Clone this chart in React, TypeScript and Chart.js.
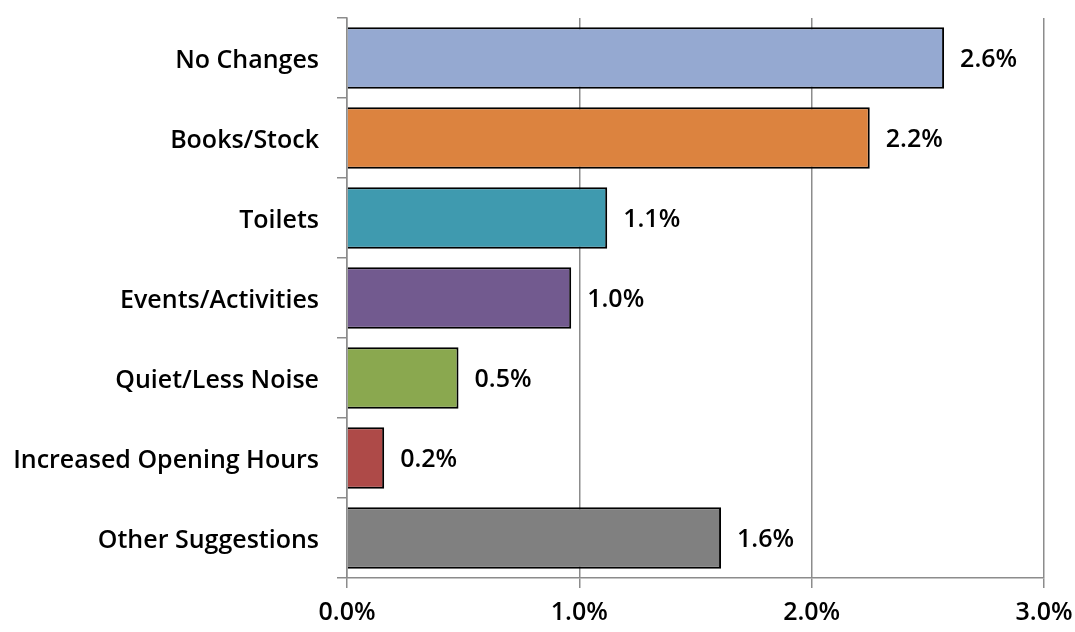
import React, { useEffect, useRef } from "react";
import { Chart, registerables } from "chart.js";

Chart.register(...registerables);

const categories = [
  "No Changes",
  "Books/Stock",
  "Toilets",
  "Events/Activities",
  "Quiet/Less Noise",
  "Increased Opening Hours",
  "Other Suggestions",
];
const values = [2.57, 2.25, 1.12, 0.965, 0.48, 0.16, 1.61];
const valueLabels = ["2.6%", "2.2%", "1.1%", "1.0%", "0.5%", "0.2%", "1.6%"];
const barColors = ["#95A9D1", "#DC833F", "#3F9AAF", "#725A8F", "#8AA84F", "#AE4A48", "#808080"];
const xTicks = [0, 1, 2, 3];

const FONT = "'Open Sans', 'Noto Sans', sans-serif";
const FSIZE = 25;

const labelPlugin = {
  id: "valueLabels",
  afterDatasetsDraw(chart: any) {
    const ctx = chart.ctx;
    const meta = chart.getDatasetMeta(0);
    ctx.save();
    ctx.font = `600 ${FSIZE}px ${FONT}`;
    ctx.fillStyle = "#000";
    ctx.textAlign = "left";
    ctx.textBaseline = "middle";
    meta.data.forEach((el: any, i: number) => {
      ctx.fillText(valueLabels[i], el.x + 16, el.y + 2);
    });
    ctx.restore();
  },
};

export default function App() {
  const ref = useRef<HTMLCanvasElement>(null);
  useEffect(() => {
    if (!ref.current) return;
    const chart = new Chart(ref.current, {
      type: "bar",
      data: {
        labels: categories,
        datasets: [
          {
            data: values,
            backgroundColor: barColors,
            borderColor: "#000",
            borderWidth: 2,
            barPercentage: 0.77,
            categoryPercentage: 1,
          },
        ],
      },
      options: {
        indexAxis: "y",
        animation: false,
        responsive: false,
        layout: { padding: { top: 18, right: 31, left: 0, bottom: 0 } },
        plugins: { legend: { display: false }, tooltip: { enabled: false } },
        scales: {
          x: {
            min: 0,
            max: 3,
            afterBuildTicks: (s: any) => {
              s.ticks = xTicks.map((v) => ({ value: v }));
            },
            afterFit: (s: any) => {
              s.height = 54;
              s.paddingLeft = 0;
              s.paddingRight = 0;
            },
            grid: {
              color: "#8c8c8c",
              lineWidth: 1.5,
              tickLength: 10,
              drawTicks: true,
            },
            border: { display: true, color: "#8c8c8c", width: 1.5 },
            ticks: {
              color: "#000",
              padding: 10,
              font: { family: FONT, size: FSIZE, weight: 600 as any },
              callback: (v: any) => Number(v).toFixed(1) + "%",
            },
          },
          y: {
            afterFit: (s: any) => {
              s.width = 347;
              s.paddingTop = 0;
              s.paddingBottom = 0;
            },
            grid: {
              offset: true,
              drawOnChartArea: false,
              color: "#8c8c8c",
              lineWidth: 1.5,
              tickLength: 10,
            },
            border: { display: true, color: "#8c8c8c", width: 1.5 },
            ticks: {
              color: "#000",
              padding: 18,
              labelOffset: 3,
              font: { family: FONT, size: FSIZE, weight: 600 as any },
            },
          },
        },
      },
      plugins: [labelPlugin],
    });
    return () => chart.destroy();
  }, []);
  return (
    <div style={{ position: "fixed", left: 0, top: 0, width: 1075, height: 632, background: "#fff" }}>
      <canvas ref={ref} width={1075} height={632} />
    </div>
  );
}
